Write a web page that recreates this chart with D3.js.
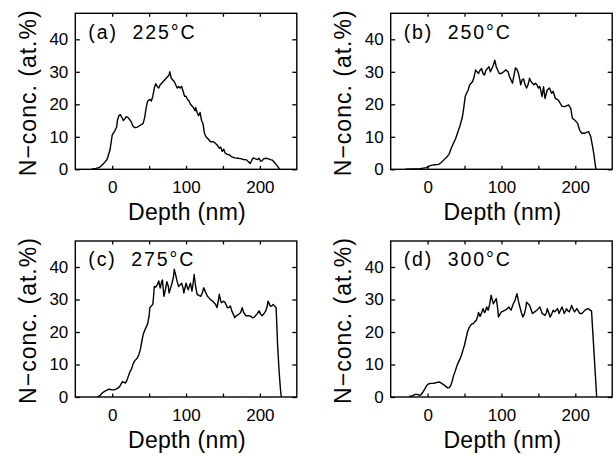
<!DOCTYPE html>
<html><head><meta charset="utf-8">
<script src="https://cdn.jsdelivr.net/npm/d3@7"></script>
<style>
html,body{margin:0;padding:0;background:#fff;}
svg{display:block;}
text{font-family:"Liberation Sans",Arial,sans-serif;fill:#000;}
</style></head>
<body><svg id="chart" width="616" height="456"></svg>
<script>
// ---- data ----
const panelTitles = ["(a)  225°C", "(b)  250°C", "(c)  275°C", "(d)  300°C"];
const xLabel = "Depth (nm)";
const yLabel = "N\u2212conc. (at.%)";
const xTickValues = [0, 50, 100, 150, 200];
const xTickLabels = [0, 100, 200];
const yTickValues = [0, 10, 20, 30, 40];

const depthA = [-28,-22,-17,-13,-10,-7,-5,-3,-1,0,2,4,6,7,9,11,13,15,17,19,21,23,26,28,31,34,37,40,42,44,46,48,51,53,55,57,59,61,63,65,67,69,71,73,75,77,78,80,82,84,86,88,90,92,94,96,98,100,102,104,106,108,110,112,113,115,117,119,121,123,125,127,130,133,136,139,142,145,147,149,151,153,156,159,162,166,170,174,178,182,185,187,189,191,194,197,199,201,203,205,208,211,214,217,220,223,226,227];
const concA  = [0,0.3,0.6,1.5,2.2,3,4.5,6,9,10.5,11.3,12,13,15,16.5,16.8,16,15,15.5,16.2,16,15.5,14.5,13.3,12.8,13,13.4,13.8,14.2,16,19,21,21.5,21,22.5,25,26.3,25.5,25,26,26.5,27,27.5,28,28.5,29,30,28,27.5,27,26,25,25.5,25,25.5,24,22.5,22.5,21.5,21,20,19.5,19,18,19,17.5,16.5,17.5,15,14,11,10,9.3,8.5,8.5,8.2,7.5,6.5,6.8,5.5,6.2,5,4.6,4.4,3.8,3.5,3.4,3.3,3,2.9,2.2,1.8,2.8,3.5,3.2,3,3.4,2.5,2.6,3.2,3.4,3.3,3,2.8,2,1.2,0.3,0];

const depthB = [-30,-10,-2,2,6,10,15,18,22,26,29,32,35,38,41,44,47,49,51,53,55,57,59,61,63,65,67,69,71,73,75,77,79,81,83,85,87,89,91,93,95,97,100,103,106,109,111,113,115,117,119,121,123,125,126,128,130,132,134,136,138,140,142,144,146,148,150,152,155,157,159,162,165,168,170,173,177,182,186,191,194,196,199,203,206,209,213,218,221,223,225,227,228];
const concB  = [0,0.2,0.5,1,1.3,1.4,1.5,2,2.9,3.8,4.6,6.5,8,9.5,11.5,13.5,16,19,22.5,23.5,24.5,26,26.5,27,28.5,30.6,30,29.5,30.5,31,29.5,29,30.5,31,31.6,30,31,32,33.6,31.5,30.5,29.5,29.5,30,30.6,30,28.5,27.5,26.5,29,31.2,30.8,29.5,27.5,26,27.5,27.8,26,25,26,28,27,26.5,26,26.5,26,25,25.5,22.4,25.4,21.8,24.4,25,23.4,24,21.8,21.3,19.4,19.3,19.8,18.7,15.7,15.2,14.2,12,11.1,11.1,11.6,10,7.5,4.9,1.5,0];

const depthC = [-20,-16,-13,-10,-8,-5,-2,0,3,5,8,10,12,14,16,18,20,22,24,26,28,30,32,34,36,38,40,42,44,46,48,50,51,53,55,56,57,59,61,63,65,67,68,70,72,74,76,77,79,81,83,84,86,88,90,92,94,96,97,99,100,102,103,105,106,108,109,111,113,115,118,120,122,124,126,129,131,133,136,138,140,142,144,145,147,148,151,153,156,158,160,162,164,166,168,171,174,176,178,181,185,188,190,192,194,196,199,201,203,205,208,210,211,213,214,216,218,220,222,224,226,228,229];
const concC  = [0,0.6,1.3,1.8,2,2.4,2.3,2.2,2.2,2.4,2.8,3.2,4,4.7,4.5,4.3,5.2,6.5,7.8,8.5,10,11,11.5,12,13,14.5,17,19.3,20.5,21.5,22.5,25,27.5,28,28.5,31,34,33.8,34.5,35.7,33.5,35.5,36,31,33,35.5,34,32,33.5,35,37,39.3,37.5,35.5,34,34.5,35,33.5,32,34,35,33.5,33,34.5,35,32.6,34,37.7,34,31.6,31.2,31,32,33.6,32.5,31,30.5,30,29.5,29,28.5,27.5,30,31.6,29.5,29,29.5,29,27.5,27.5,28,26.5,25.5,24.4,25,25.4,26,27.5,26,25,25,24.8,24.4,24.5,25,25.5,26.5,25.5,25,25.5,26.5,28,29.5,28.5,28,28,28.5,28,27.5,16,8,2,0];

const depthD = [-25,-20,-17,-14,-11,-9,-7,-5,-3,-1,1,4,7,10,13,15,17,19,21,23,25,27,29,31,33,35,37,40,42,44,46,48,50,52,54,56,58,60,62,64,66,68,69,71,73,75,77,78,80,82,84,86,88,89,91,93,95,96,98,100,103,105,108,110,113,116,118,121,123,125,127,129,131,133,134,136,138,140,142,145,148,150,152,154,155,157,159,161,162,164,166,168,170,172,174,176,178,180,182,184,185,187,188,190,192,194,195,197,199,200,202,204,206,209,211,213,215,218,220,222,229];
const concD  = [0.2,0.4,0.8,0.8,0.5,0.7,1.3,2,2.8,3.6,4,4.2,4.2,4.3,4.5,4.6,4.5,4.2,3.9,3.6,3.2,2.8,2.8,3.4,4.6,6.5,7.7,9.8,10.8,11.8,13,14.5,16,18,20,21.2,22,22.5,22.6,23.2,23.6,25,26,24.8,25.8,27.2,26,26.2,27.7,26.7,28.5,31.3,29.5,28.7,29.5,30.3,27,24.6,25.5,26.2,26.5,26.7,27.2,27.7,26.7,28.7,29.5,31.8,29.5,27.7,26,24.6,25.5,27.5,29.2,28.7,28.2,27,25.7,26.2,26.7,27.2,27.7,26.5,25.7,25.4,25.1,26,27.2,26,24.6,25.5,26.7,26.2,26.7,27.2,25.7,26.7,27.7,26.5,25.7,26.5,27.2,26.5,26.2,27.5,28.2,27,26.2,26.5,27.2,26.5,25.7,25.7,26.2,26.7,27,27.2,26.7,26.5,0];

const panelDepths = [depthA, depthB, depthC, depthD];
const panelConcs = [concA, concB, concC, concD];

// ---- layout ----
const svg = d3.select("#chart");
const W = 221.5, H = 156;
const lefts = [75.3, 390.7, 75.3, 390.7];
const tops = [13.3, 13.3, 241, 241];

const x = d3.scaleLinear().domain([-50, 250]).range([0, W]);
const y = d3.scaleLinear().domain([0, 48]).range([H, 0]);

panelDepths.forEach((depths, i) => {
  const concs = panelConcs[i];
  const g = svg.append("g").attr("transform", `translate(${lefts[i]},${tops[i]})`);

  const bx = g.append("g").attr("transform", `translate(0,${H})`)
    .call(d3.axisBottom(x).tickValues(xTickValues).tickSizeInner(-3.5).tickSizeOuter(0).tickPadding(12)
      .tickFormat(d => xTickLabels.includes(d) ? d : ""));
  const tx = g.append("g")
    .call(d3.axisTop(x).tickValues(xTickValues).tickSizeInner(-3.5).tickSizeOuter(0).tickFormat(""));
  const ly = g.append("g")
    .call(d3.axisLeft(y).tickValues(yTickValues).tickSizeInner(-4.5).tickSizeOuter(0).tickPadding(7));
  const ry = g.append("g").attr("transform", `translate(${W},0)`)
    .call(d3.axisRight(y).tickValues(yTickValues).tickSizeInner(-4.5).tickSizeOuter(0).tickFormat(""));

  [bx, tx, ly, ry].forEach(a => {
    a.select(".domain").remove();
    a.selectAll(".tick line").attr("stroke", "#000").attr("stroke-width", 1.3);
    a.selectAll(".tick text").style("font-size", "17px").style("font-family", '"Liberation Sans",Arial,sans-serif').attr("fill", "#000");
  });

  g.append("rect").attr("x", 0).attr("y", 0).attr("width", W).attr("height", H)
    .attr("fill", "none").attr("stroke", "#000").attr("stroke-width", 1.4);

  const pts = depths.map((d, k) => [d, concs[k]]);
  g.append("path").datum(pts)
    .attr("fill", "none").attr("stroke", "#000").attr("stroke-width", 1.4).attr("stroke-linejoin", "round")
    .attr("d", d3.line().x(p => x(p[0])).y(p => y(p[1])));

  g.append("text").attr("x", 13).attr("y", 25.3)
    .style("font-size", "19.5px").style("letter-spacing", "1.9px").style("white-space", "pre")
    .text(panelTitles[i]);

  g.append("text").attr("x", W / 2 + 1).attr("y", H + 50.5).attr("text-anchor", "middle")
    .style("font-size", "23px").style("letter-spacing", "0.3px")
    .text(xLabel);

  g.append("text").attr("transform", `translate(-39.5,${H / 2 + 1.5}) rotate(-90)`)
    .attr("text-anchor", "middle")
    .style("font-size", "23px").style("letter-spacing", "1px")
    .text(yLabel);
});
</script></body></html>
